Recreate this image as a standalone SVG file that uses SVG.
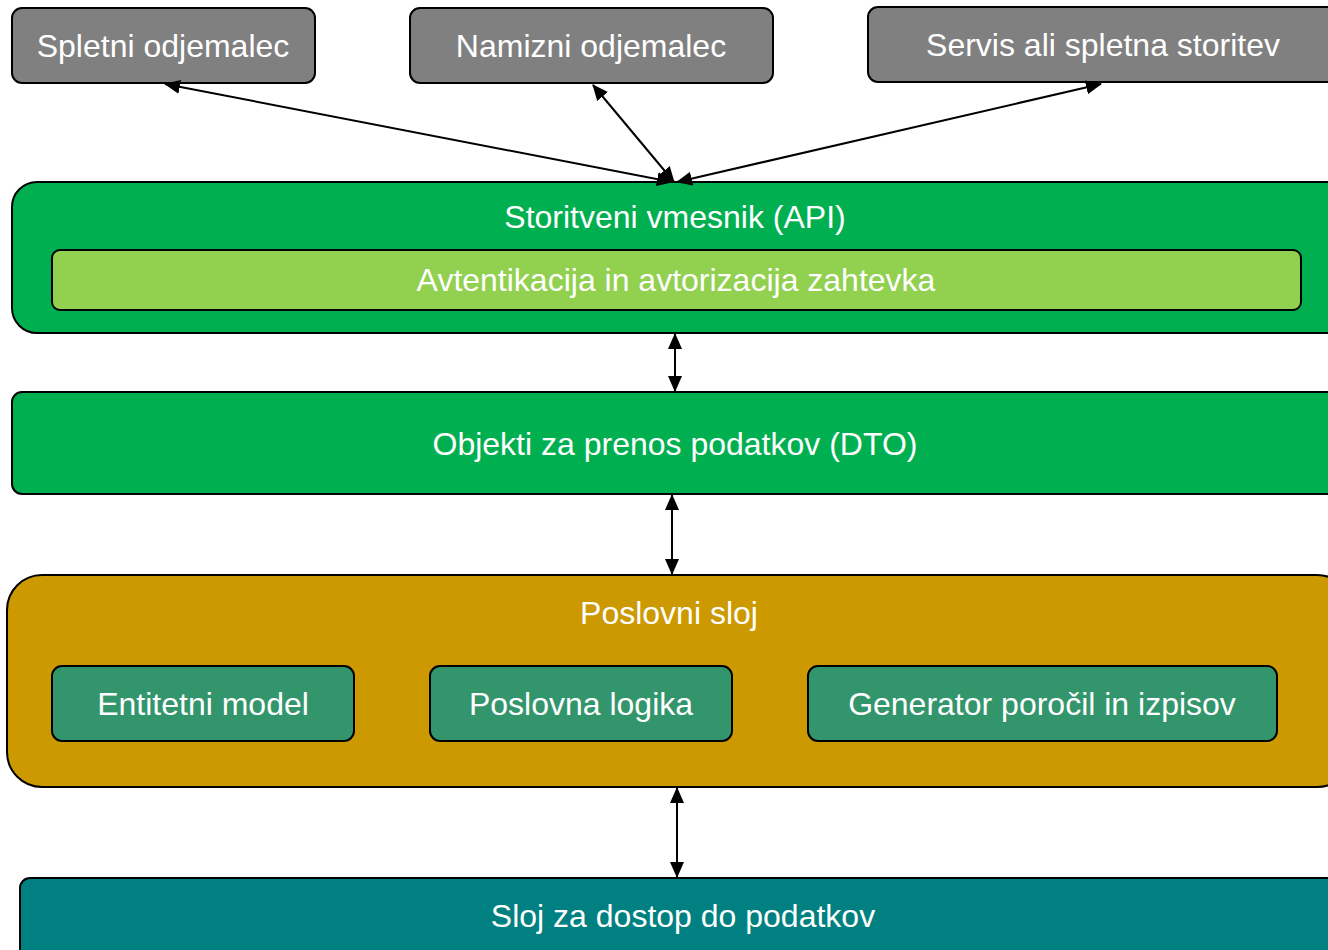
<svg xmlns="http://www.w3.org/2000/svg" width="1328" height="950" viewBox="0 0 1328 950">
<defs>
<marker id="ah" viewBox="0 0 16 14" refX="15" refY="7" markerWidth="16" markerHeight="14" markerUnits="userSpaceOnUse" orient="auto-start-reverse">
<path d="M0,0 L16,7 L0,14 Z" fill="#000"/>
</marker>
<style>
.box{stroke:#000;stroke-width:2}
.t{font-family:"Liberation Sans",Arial,sans-serif;font-size:32px;fill:#fff;text-anchor:middle}
.c{stroke:#000;stroke-width:2;fill:none;marker-start:url(#ah);marker-end:url(#ah)}
</style>
</defs>
<rect width="1328" height="950" fill="#fff"/>
<g id="spletni">
<rect class="box" x="12" y="8" width="303" height="75" rx="10" fill="#808080"/>
<text class="t" x="163" y="57">Spletni odjemalec</text>
</g>
<g id="namizni">
<rect class="box" x="410" y="8" width="363" height="75" rx="10" fill="#808080"/>
<text class="t" x="591" y="57">Namizni odjemalec</text>
</g>
<g id="servis">
<rect class="box" x="868" y="7" width="480" height="75" rx="10" fill="#808080"/>
<text class="t" x="1103" y="56">Servis ali spletna storitev</text>
</g>
<g id="api">
<rect class="box" x="12" y="182" width="1340" height="151" rx="25" fill="#00AF50"/>
<text class="t" x="675" y="228">Storitveni vmesnik (API)</text>
</g>
<g id="auth">
<rect class="box" x="52" y="250" width="1249" height="60" rx="8" fill="#92D050"/>
<text class="t" x="676" y="291">Avtentikacija in avtorizacija zahtevka</text>
</g>
<g id="dto">
<rect class="box" x="12" y="392" width="1340" height="102" rx="10" fill="#00AF50"/>
<text class="t" x="675" y="455">Objekti za prenos podatkov (DTO)</text>
</g>
<g id="poslovni">
<rect class="box" x="7" y="575" width="1345" height="212" rx="35" fill="#CC9900"/>
<text class="t" x="669" y="624">Poslovni sloj</text>
</g>
<g id="entitetni">
<rect class="box" x="52" y="666" width="302" height="75" rx="10" fill="#33956C"/>
<text class="t" x="203" y="715">Entitetni model</text>
</g>
<g id="logika">
<rect class="box" x="430" y="666" width="302" height="75" rx="10" fill="#33956C"/>
<text class="t" x="581" y="715">Poslovna logika</text>
</g>
<g id="generator">
<rect class="box" x="808" y="666" width="469" height="75" rx="10" fill="#33956C"/>
<text class="t" x="1042" y="715">Generator poročil in izpisov</text>
</g>
<g id="dostop">
<rect class="box" x="20" y="878" width="1330" height="90" rx="10" fill="#008080"/>
<text class="t" x="683" y="927">Sloj za dostop do podatkov</text>
</g>
<g id="connectors">
<line class="c" x1="165" y1="84" x2="672" y2="182"/>
<line class="c" x1="593" y1="85" x2="674" y2="182"/>
<line class="c" x1="1101" y1="84" x2="677" y2="182"/>
<line class="c" x1="675" y1="334" x2="675" y2="391"/>
<line class="c" x1="672" y1="495" x2="672" y2="574"/>
<line class="c" x1="677" y1="788" x2="677" y2="877"/>
</g>
</svg>
